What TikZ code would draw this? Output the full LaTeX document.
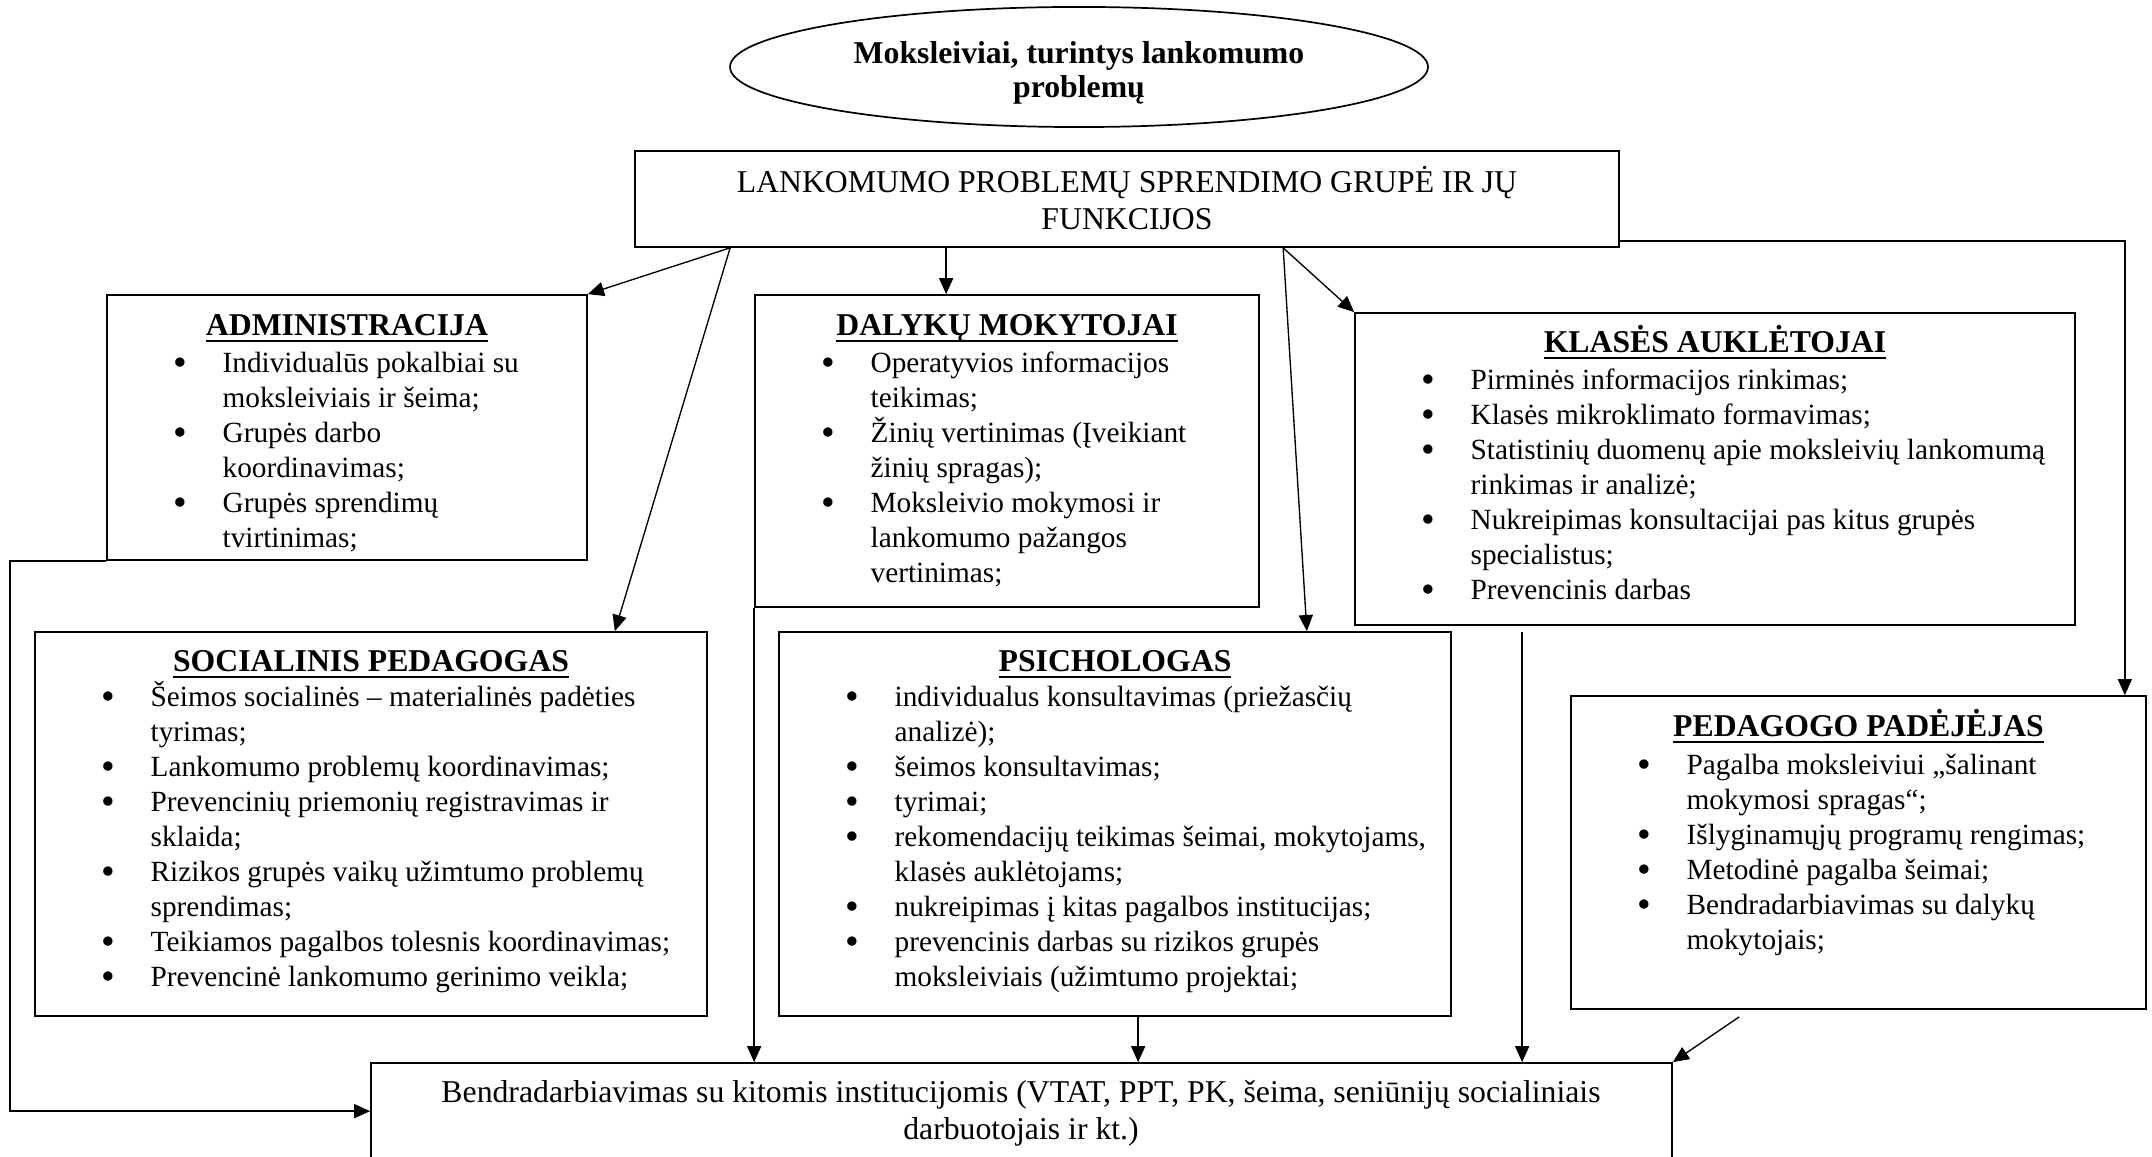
\documentclass[tikz,border=0pt]{standalone}
\usepackage{fontspec}
\setmainfont{Liberation Serif}
\usetikzlibrary{arrows.meta,shapes.geometric,fit,calc}
\newcommand{\itm}[1]{\par\hangindent=19.25pt\hangafter=1\noindent
  \makebox[19.25pt][l]{\hspace*{2.05pt}\makebox[0pt][c]{\raisebox{-1.3pt}{\fontsize{16}{16}\selectfont\textbullet}}}#1}
\newcommand{\itemlist}[1]{\parbox[t]{330pt}{\fontsize{12}{14.34}\selectfont #1\par}}
\newcommand{\ttlul}[1]{\setbox0\hbox{#1}\rlap{\rule[-3pt]{\wd0}{1.2pt}}\box0}
\begin{document}
\begin{tikzpicture}[x=0.4096pt,y=-0.4096pt,
    box/.style={draw, line width=0.7pt, inner sep=0pt, rectangle},
    ttl/.style={anchor=base, inner sep=0pt, font=\fontsize{13}{15}\selectfont\bfseries},
    lbl/.style={anchor=base west, inner sep=0pt},
    arr/.style={line width=0.55pt, -{Triangle[length=6.6pt,width=5.8pt]}}]
\useasboundingbox (0,0) rectangle (2152,1157);
\node[draw, ellipse, line width=0.7pt, inner sep=0pt, minimum width=285.9pt, minimum height=49.2pt] (pupils) at (1079,67) {};
\node[anchor=base, inner sep=0pt, font=\fontsize{13}{13.9}\selectfont\bfseries] (pupilst) at (1079,64)
    {\parbox[t]{300pt}{\centering Moksleiviai, turintys lankomumo\\problemų}};
\node[box, fit={(635,151) (1619,247)}] (group) {};
\node[anchor=base, inner sep=0pt, font=\fontsize{13}{14.75}\selectfont] (groupt) at (1127,193)
    {\parbox[t]{450pt}{\centering LANKOMUMO PROBLEMŲ SPRENDIMO GRUPĖ IR JŲ\\FUNKCIJOS}};
\node[box, fit={(107,295) (587,560)}] (admin) {};
\node[box, fit={(755,295) (1259,607)}] (subj) {};
\node[box, fit={(1355,313) (2075,625)}] (form) {};
\node[box, fit={(35,632) (707,1016)}] (soc) {};
\node[box, fit={(779,632) (1451,1016)}] (psy) {};
\node[box, fit={(1571,696) (2146,1009)}] (asst) {};
\node[box, fit={(371,1063) (1672,1200)}] (coop) {};
\node[ttl] (admint) at ($(admin.north)+(0,41)$) {\ttlul{ADMINISTRACIJA}};
\node[ttl] (subjt) at ($(subj.north)+(0,41)$) {\ttlul{DALYKŲ MOKYTOJAI}};
\node[ttl] (formt) at ($(form.north)+(0,40)$) {\ttlul{KLASĖS AUKLĖTOJAI}};
\node[ttl] (soct) at ($(soc.north)+(0,40)$) {\ttlul{SOCIALINIS PEDAGOGAS}};
\node[ttl] (psyt) at ($(psy.north)+(0,40)$) {\ttlul{PSICHOLOGAS}};
\node[ttl] (asstt) at ($(asst.north)+(0,41)$) {\ttlul{PEDAGOGO PADĖJĖJAS}};
\node[lbl] (adminl) at ($(admin.north west)+(69,78)$) {\itemlist{%
    \itm{Individualūs pokalbiai su\\moksleiviais ir šeima;}
    \itm{Grupės darbo\\koordinavimas;}
    \itm{Grupės sprendimų\\tvirtinimas;}}};
\node[lbl] (subjl) at ($(subj.north west)+(69,78)$) {\itemlist{%
    \itm{Operatyvios informacijos\\teikimas;}
    \itm{Žinių vertinimas (Įveikiant\\žinių spragas);}
    \itm{Moksleivio mokymosi ir\\lankomumo pažangos\\vertinimas;}}};
\node[lbl] (forml) at ($(form.north west)+(69,77)$) {\itemlist{%
    \itm{Pirminės informacijos rinkimas;}
    \itm{Klasės mikroklimato formavimas;}
    \itm{Statistinių duomenų apie moksleivių lankomumą\\rinkimas ir analizė;}
    \itm{Nukreipimas konsultacijai pas kitus grupės\\specialistus;}
    \itm{Prevencinis darbas}}};
\node[lbl] (socl) at ($(soc.north west)+(69,75)$) {\itemlist{%
    \itm{Šeimos socialinės – materialinės padėties\\tyrimas;}
    \itm{Lankomumo problemų koordinavimas;}
    \itm{Prevencinių priemonių registravimas ir\\sklaida;}
    \itm{Rizikos grupės vaikų užimtumo problemų\\sprendimas;}
    \itm{Teikiamos pagalbos tolesnis koordinavimas;}
    \itm{Prevencinė lankomumo gerinimo veikla;}}};
\node[lbl] (psyl) at ($(psy.north west)+(69,75)$) {\itemlist{%
    \itm{individualus konsultavimas (priežasčių\\analizė);}
    \itm{šeimos konsultavimas;}
    \itm{tyrimai;}
    \itm{rekomendacijų teikimas šeimai, mokytojams,\\klasės auklėtojams;}
    \itm{nukreipimas į kitas pagalbos institucijas;}
    \itm{prevencinis darbas su rizikos grupės\\moksleiviais (užimtumo projektai;}}};
\node[lbl] (asstl) at ($(asst.north west)+(69,79)$) {\itemlist{%
    \itm{Pagalba moksleiviui „šalinant\\mokymosi spragas“;}
    \itm{Išlyginamųjų programų rengimas;}
    \itm{Metodinė pagalba šeimai;}
    \itm{Bendradarbiavimas su dalykų\\mokytojais;}}};
\node[anchor=base, inner sep=0pt, font=\fontsize{13}{15.56}\selectfont] (coopt) at (1021,1102)
    {\parbox[t]{560pt}{\centering Bendradarbiavimas su kitomis institucijomis (VTAT, PPT, PK, šeima, seniūnijų socialiniais\\darbuotojais ir kt.)}};
\coordinate (g1) at ($(group.south west)+(96,0)$);
\coordinate (g2) at ($(group.south west)+(312,0)$);
\coordinate (g3) at ($(group.south west)+(649,0)$);
\coordinate (p1) at ($(psy.south west)+(360,0)$);
\coordinate (k1) at ($(form.south west)+(168,6)$);
\draw[arr] (g1) -- (admin.north east);
\draw[arr] (g1) -- ($(soc.north east)+(-93,0)$);
\draw[arr] (g2) -- (g2 |- subj.north);
\draw[arr] (g3) -- (form.north west);
\draw[arr] (g3) -- ($(psy.north east)+(-145,0)$);
\draw[arr] ($(group.south east)+(0,-7)$) -| ($(asst.north east)+(-22,0)$);
\draw[arr] (admin.south west) -- ++(-96,0) |- ($(coop.north west)+(0,49)$);
\draw[arr] (subj.south west) -- (subj.south west |- coop.north);
\draw[arr] (p1) -- (p1 |- coop.north);
\draw[arr] (k1) -- (k1 |- coop.north);
\draw[arr] ($(asst.south west)+(169,7)$) -- (coop.north east);
\end{tikzpicture}
\end{document}
